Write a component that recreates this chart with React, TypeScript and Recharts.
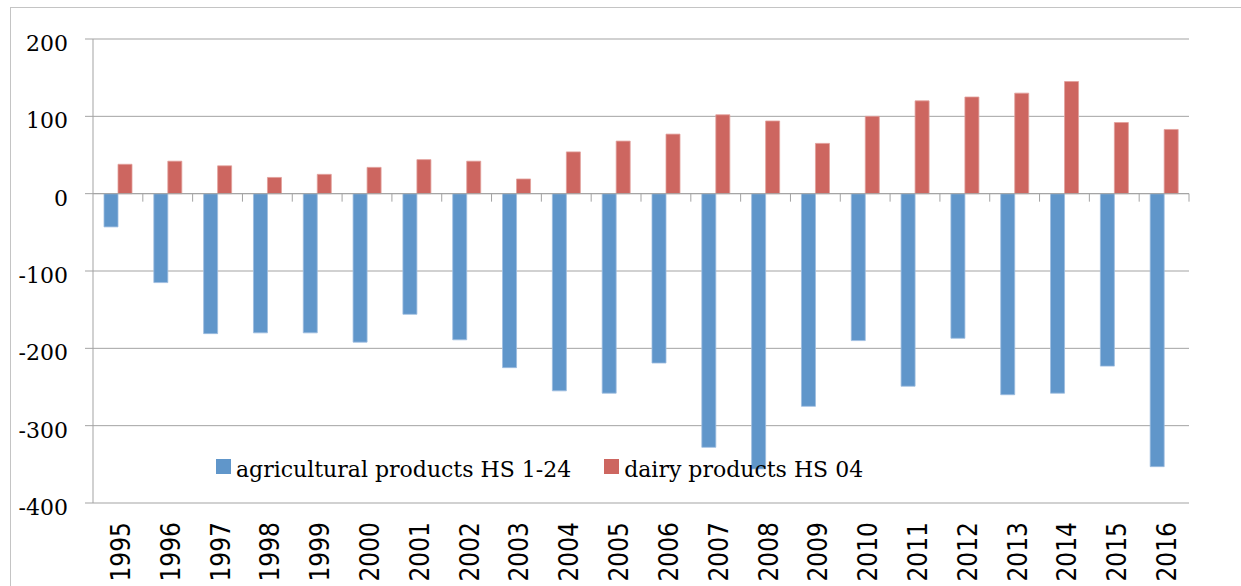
import React from 'react';
import { BarChart, Bar, XAxis, YAxis, CartesianGrid, ReferenceLine } from 'recharts';

const years = ['1995', '1996', '1997', '1998', '1999', '2000', '2001', '2002', '2003', '2004', '2005', '2006', '2007', '2008', '2009', '2010', '2011', '2012', '2013', '2014', '2015', '2016'];
const agricultural = [-43, -115, -181, -180, -180, -192, -156, -189, -225, -255, -258, -219, -328, -356, -275, -190, -249, -187, -260, -258, -223, -353];
const dairy = [38, 42, 36, 21, 25, 34, 44, 42, 19, 54, 68, 77, 102, 94, 65, 100, 120, 125, 130, 145, 92, 83];
const yTicks = [-400, -300, -200, -100, 0, 100, 200];
const seriesNames = ['agricultural products HS 1-24', 'dairy products HS 04'];
const seriesColors = ['#6096ca', '#cd6660'];
const seriesStroke = ['#9dbde0', '#e2a09b'];

const data = years.map((y, i) => ({ year: y, agri: agricultural[i], dairy: dairy[i] }));

const SERIF = '"DejaVu Serif", serif';
const SANS = '"Liberation Sans Narrow", "DejaVu Sans Condensed", "Liberation Sans", sans-serif';
const GRID = '#a3a3a3';

const YTick = (props: any) => {
  const { x, y, payload } = props;
  return (
    <text x={x} y={y} dy={12} textAnchor="end" fontFamily={SERIF} fontSize={22} fill="#000">
      {payload.value}
    </text>
  );
};

const XTick = (props: any) => {
  const { x, y, payload } = props;
  return (
    <text
      transform={`translate(${x + 12},${y + 19}) rotate(-90)`}
      textAnchor="end"
      fontFamily={SANS}
      fontSize={26}
      fill="#000"
    >
      {payload.value}
    </text>
  );
};

const ZeroLine = (props: any) => {
  const { x1, y1, x2, y2 } = props;
  const n = years.length;
  const step = (x2 - x1) / n;
  const ticks = [];
  for (let i = 1; i <= n; i++) {
    const tx = x1 + i * step;
    ticks.push(<line key={i} x1={tx} y1={y1} x2={tx} y2={y1 + 8} stroke={GRID} strokeWidth={1} />);
  }
  return (
    <g>
      <line x1={x1} y1={y1} x2={x2} y2={y2} stroke={GRID} strokeWidth={1} />
      {ticks}
    </g>
  );
};

const LegendBox = () => (
  <div style={{ position: 'absolute', left: 216, top: 459, display: 'flex', alignItems: 'flex-start', fontFamily: SERIF, fontSize: 22, lineHeight: '22px', color: '#000', whiteSpace: 'nowrap' }}>
    {seriesNames.map((name, i) => (
      <div key={name} style={{ display: 'flex', alignItems: 'flex-start', marginRight: 33 }}>
        <div style={{ width: 15, height: 15, background: seriesColors[i], marginRight: 5 }} />
        <span>{name}</span>
      </div>
    ))}
  </div>
);

export default function App() {
  return (
    <div style={{ position: 'absolute', left: 0, top: 0, width: 1241, height: 586, background: '#fff', overflow: 'hidden' }}>
      <style>{'body{margin:0;overflow:hidden;background:#fff}'}</style>
      <div style={{ position: 'absolute', left: 10, top: 7, width: 1300, height: 700, borderTop: '1px solid #c4c4c4', borderLeft: '1px solid #c4c4c4' }} />
      <div style={{ position: 'absolute', left: 0, top: 0 }}>
        <BarChart
          width={1241}
          height={586}
          data={data}
          margin={{ top: 39, right: 52, bottom: 3, left: 13 }}
          barGap={0}
          barSize={14}
        >
          <CartesianGrid vertical={false} stroke={GRID} strokeWidth={1} />
          <XAxis
            dataKey="year"
            axisLine={false}
            tickLine={false}
            tickSize={0}
            tickMargin={0}
            height={80}
            interval={0}
            tick={<XTick />}
          />
          <YAxis
            domain={[-400, 200]}
            ticks={yTicks}
            width={80}
            axisLine={{ stroke: GRID }}
            tickLine={{ stroke: GRID }}
            tickSize={8}
            tickMargin={17}
            tick={<YTick />}
            interval={0}
          />
          <ReferenceLine y={0} shape={<ZeroLine />} />
          <Bar dataKey="agri" name={seriesNames[0]} fill={seriesColors[0]} stroke={seriesStroke[0]} strokeWidth={0.8} isAnimationActive={false} />
          <Bar dataKey="dairy" name={seriesNames[1]} fill={seriesColors[1]} stroke={seriesStroke[1]} strokeWidth={0.8} isAnimationActive={false} />
        </BarChart>
      </div>
      <LegendBox />
    </div>
  );
}
